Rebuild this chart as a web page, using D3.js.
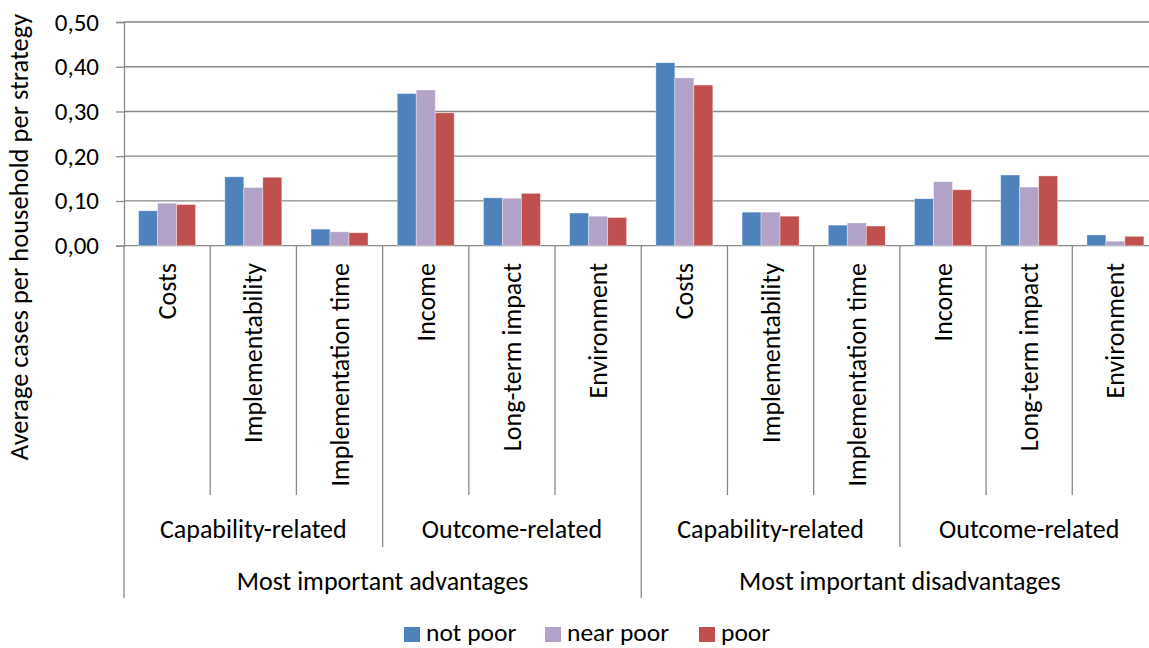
<!DOCTYPE html>
<html>
<head>
<meta charset="utf-8">
<script src="https://cdn.jsdelivr.net/npm/d3@7"></script>
<style>
  body { margin: 0; background: #fff; }
  text { font-family: Carlito, Lato, "Open Sans", sans-serif; fill: #000; }
</style>
</head>
<body>
<div id="chart"></div>
<script>
// data
var categories = ["Costs", "Implementability", "Implementation time", "Income", "Long-term impact", "Environment",
                  "Costs", "Implementability", "Implementation time", "Income", "Long-term impact", "Environment"];
var subGroups = ["Capability-related", "Outcome-related", "Capability-related", "Outcome-related"];
var mainGroups = ["Most important advantages", "Most important disadvantages"];
var seriesNames = ["not poor", "near poor", "poor"];
var notPoor  = [0.078, 0.154, 0.037, 0.340, 0.107, 0.073, 0.409, 0.075, 0.046, 0.105, 0.158, 0.024];
var nearPoor = [0.095, 0.130, 0.031, 0.348, 0.106, 0.066, 0.375, 0.075, 0.051, 0.143, 0.131, 0.010];
var poor     = [0.092, 0.153, 0.029, 0.297, 0.117, 0.063, 0.359, 0.066, 0.044, 0.125, 0.156, 0.021];
var yTicks = [0, 0.1, 0.2, 0.3, 0.4, 0.5];
var colors = ["#4f81bd", "#b2a2c7", "#c0504d"];

var W = 1149, H = 648;
var plotLeft = 124, plotRight = 1158.5, plotTop = 22, zero = 245.7;
var labelSize = "26px";

var svg = d3.select("#chart").append("svg")
    .attr("width", W).attr("height", H);

var idx = d3.range(categories.length);
var x0 = d3.scaleBand().domain(idx).range([plotLeft, plotRight]).paddingInner(0).paddingOuter(0);
var x1 = d3.scaleBand().domain(seriesNames).range([0, x0.bandwidth()]).paddingInner(0).paddingOuter(0.77);
var y = d3.scaleLinear().domain([0, 0.5]).range([zero, plotTop]);

var comma = d3.formatLocale({decimal: ",", thousands: ".", grouping: [3], currency: ["", ""]});

// gridlines
svg.append("g").selectAll("line").data(yTicks).enter().append("line")
    .attr("x1", plotLeft).attr("x2", plotRight)
    .attr("y1", function(d) { return y(d); }).attr("y2", function(d) { return y(d); })
    .attr("stroke", "#898989").attr("stroke-width", 1.3);

// y axis
var yAxis = svg.append("g")
    .attr("transform", "translate(" + plotLeft + ",0)")
    .call(d3.axisLeft(y).tickValues(yTicks).tickSize(8).tickPadding(17).tickFormat(comma.format(".2f")));
yAxis.select(".domain").attr("stroke", "#898989").attr("stroke-width", 1.3);
yAxis.selectAll(".tick line").attr("stroke", "#898989").attr("stroke-width", 1.3);
yAxis.selectAll(".tick text").style("font-size", "25px").style("font-family", "Carlito, Lato, sans-serif").attr("fill", "#000");

// axis title
svg.append("text")
    .attr("transform", "translate(28,237) rotate(-90)")
    .attr("text-anchor", "middle")
    .style("font-size", "26.5px")
    .text("Average cases per household per strategy");

// bars
var series = [notPoor, nearPoor, poor];
series.forEach(function(vals, s) {
  svg.append("g").selectAll("rect").data(vals).enter().append("rect")
      .attr("x", function(d, i) { return x0(i) + x1(seriesNames[s]); })
      .attr("y", function(d) { return y(d); })
      .attr("width", x1.bandwidth())
      .attr("height", function(d) { return zero - y(d); })
      .attr("fill", colors[s])
      .attr("stroke", "#ffffff").attr("stroke-opacity", 0.45).attr("stroke-width", 0.8);
});

// category dividers (multi-level)
var step = x0.step();
var bounds = d3.range(categories.length + 1);
svg.append("g").selectAll("line").data(bounds).enter().append("line")
    .attr("x1", function(i) { return plotLeft + i * step; })
    .attr("x2", function(i) { return plotLeft + i * step; })
    .attr("y1", zero)
    .attr("y2", function(i) { return i % 6 === 0 ? 598 : (i % 3 === 0 ? 547 : 495); })
    .attr("stroke", "#898989").attr("stroke-width", 1.3);

// category labels
svg.append("g").selectAll("text").data(categories).enter().append("text")
    .attr("transform", function(d, i) { return "translate(" + (x0(i) + step / 2 + 9) + ",263) rotate(-90)"; })
    .attr("text-anchor", "end")
    .style("font-size", labelSize)
    .text(function(d) { return d; });

svg.append("g").selectAll("text").data(subGroups).enter().append("text")
    .attr("x", function(d, i) { return plotLeft + (i * 3 + 1.5) * step; })
    .attr("y", 538)
    .attr("text-anchor", "middle")
    .style("font-size", labelSize)
    .text(function(d) { return d; });

svg.append("g").selectAll("text").data(mainGroups).enter().append("text")
    .attr("x", function(d, i) { return plotLeft + (i * 6 + 3) * step; })
    .attr("y", 590)
    .attr("text-anchor", "middle")
    .style("font-size", labelSize)
    .text(function(d) { return d; });

// legend
var legendX = [404, 545, 699];
var lg = svg.append("g");
seriesNames.forEach(function(name, s) {
  lg.append("rect").attr("x", legendX[s]).attr("y", 627).attr("width", 16).attr("height", 15).attr("fill", colors[s]);
  lg.append("text").attr("x", legendX[s] + 22).attr("y", 641).style("font-size", "25.5px").text(name);
});
</script>
</body>
</html>
